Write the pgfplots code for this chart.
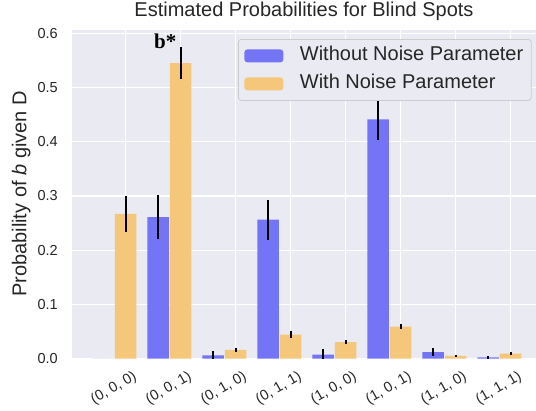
\documentclass[border=0pt]{standalone}
\usepackage{pgfplots}
\pgfplotsset{compat=1.18}
\usepackage{pgfplotstable}
\usepackage{fontspec}
\setmainfont{Liberation Sans}
\newfontfamily\serifb{Liberation Serif}
\newfontfamily\sansf{Liberation Sans}
\definecolor{bg}{HTML}{EAEAF2}
\definecolor{bluebar}{HTML}{7474F7}
\definecolor{orangebar}{HTML}{F5C77A}
\definecolor{txt}{HTML}{262626}
\definecolor{legedge}{HTML}{CCCCCC}

\pgfplotstableread{
idx blue  blueerr orange orangeerr
0   0.000 0.000   0.267  0.033
1   0.261 0.040   0.545  0.029
2   0.006 0.008   0.016  0.004
3   0.256 0.037   0.044  0.006
4   0.007 0.011   0.030  0.004
5   0.441 0.037   0.059  0.005
6   0.012 0.007   0.005  0.001
7   0.002 0.002   0.009  0.003
}\data

\begin{document}
\begin{tikzpicture}
\begin{axis}[
  scale only axis, width=464pt, height=329pt,
  xmin=-0.976, xmax=7.46, ymin=0, ymax=0.607,
  axis background/.style={fill=bg},
  axis line style={draw=none},
  major tick length=0pt,
  grid=major, major grid style={white, line width=1.2pt},
  xtick={0,1,2,3,4,5,6,7},
  xticklabels={\mbox{\sansf(0, 0, 0)},\mbox{\sansf(0, 0, 1)},\mbox{\sansf(0, 1, 0)},\mbox{\sansf(0, 1, 1)},\mbox{\sansf(1, 0, 0)},\mbox{\sansf(1, 0, 1)},\mbox{\sansf(1, 1, 0)},\mbox{\sansf(1, 1, 1)}},
  ytick={0,0.1,0.2,0.3,0.4,0.5,0.6},
  /pgf/number format/assume math mode=true,
  yticklabel={\pgfmathprintnumber[fixed,fixed zerofill,precision=1]{\tick}},
  yticklabel style={inner sep=0pt, xshift=-14pt, font=\fontsize{14.5}{16}\selectfont, text=txt},
  xticklabel style={rotate=30, anchor=north east, inner sep=0pt, yshift=-13pt, font=\fontsize{14.5}{16}\selectfont, text=txt},
  title={Estimated Probabilities for Blind Spots},
  title style={at={(0.5,1)}, anchor=base, yshift=7.5pt, inner sep=0pt, font=\fontsize{20}{24}\selectfont, text=txt},
  ylabel={Probability of \textit{b} given D},
  ylabel style={at={(rel axis cs:0,0.5)}, anchor=base, yshift=45.5pt, inner sep=0pt, font=\fontsize{20}{24}\selectfont, text=txt},
  legend style={at={(rel axis cs:1,1)}, anchor=north east, xshift=-4.3pt, yshift=-9.5pt,
    draw=legedge, line width=0.8pt, fill=bg, rounded corners=3pt,
    font=\fontsize{20}{24}\selectfont, text=txt, inner xsep=6pt, inner ysep=5.5pt, row sep=6pt,
    column sep=14.5pt,
    cells={anchor=west}, nodes={inner sep=2pt, text height=14pt, text depth=4pt}},
  legend image code/.code={\fill[#1] (0pt,-6.5pt) rectangle (39pt,6.5pt);},
]
\addplot[ybar, bar width=0.39, bar shift=0pt, fill=bluebar, draw=none,
  error bars/.cd, y dir=both, y explicit, error mark=none,
  error bar style={black, line width=2pt}]
  table[x expr=\thisrow{idx}-0.41, y=blue, y error=blueerr] {\data};
\addlegendentry{Without Noise Parameter}
\addplot[ybar, bar width=0.39, bar shift=0pt, fill=orangebar, draw=none,
  error bars/.cd, y dir=both, y explicit, error mark=none,
  error bar style={black, line width=2pt}]
  table[x=idx, y=orange, y error=orangeerr] {\data};
\addlegendentry{With Noise Parameter}
\node[anchor=base west, inner sep=0pt, font=\serifb\bfseries\fontsize{21}{24}\selectfont] at (axis cs:0.515,0.572) {b*};
\coordinate (ll) at (rel axis cs:0,0);
\coordinate (ur) at (rel axis cs:1,1);
\end{axis}
\pgfresetboundingbox
\path (ll) +(-72pt,-51.5pt) (ur) +(0pt,29.5pt);
\end{tikzpicture}
\end{document}
